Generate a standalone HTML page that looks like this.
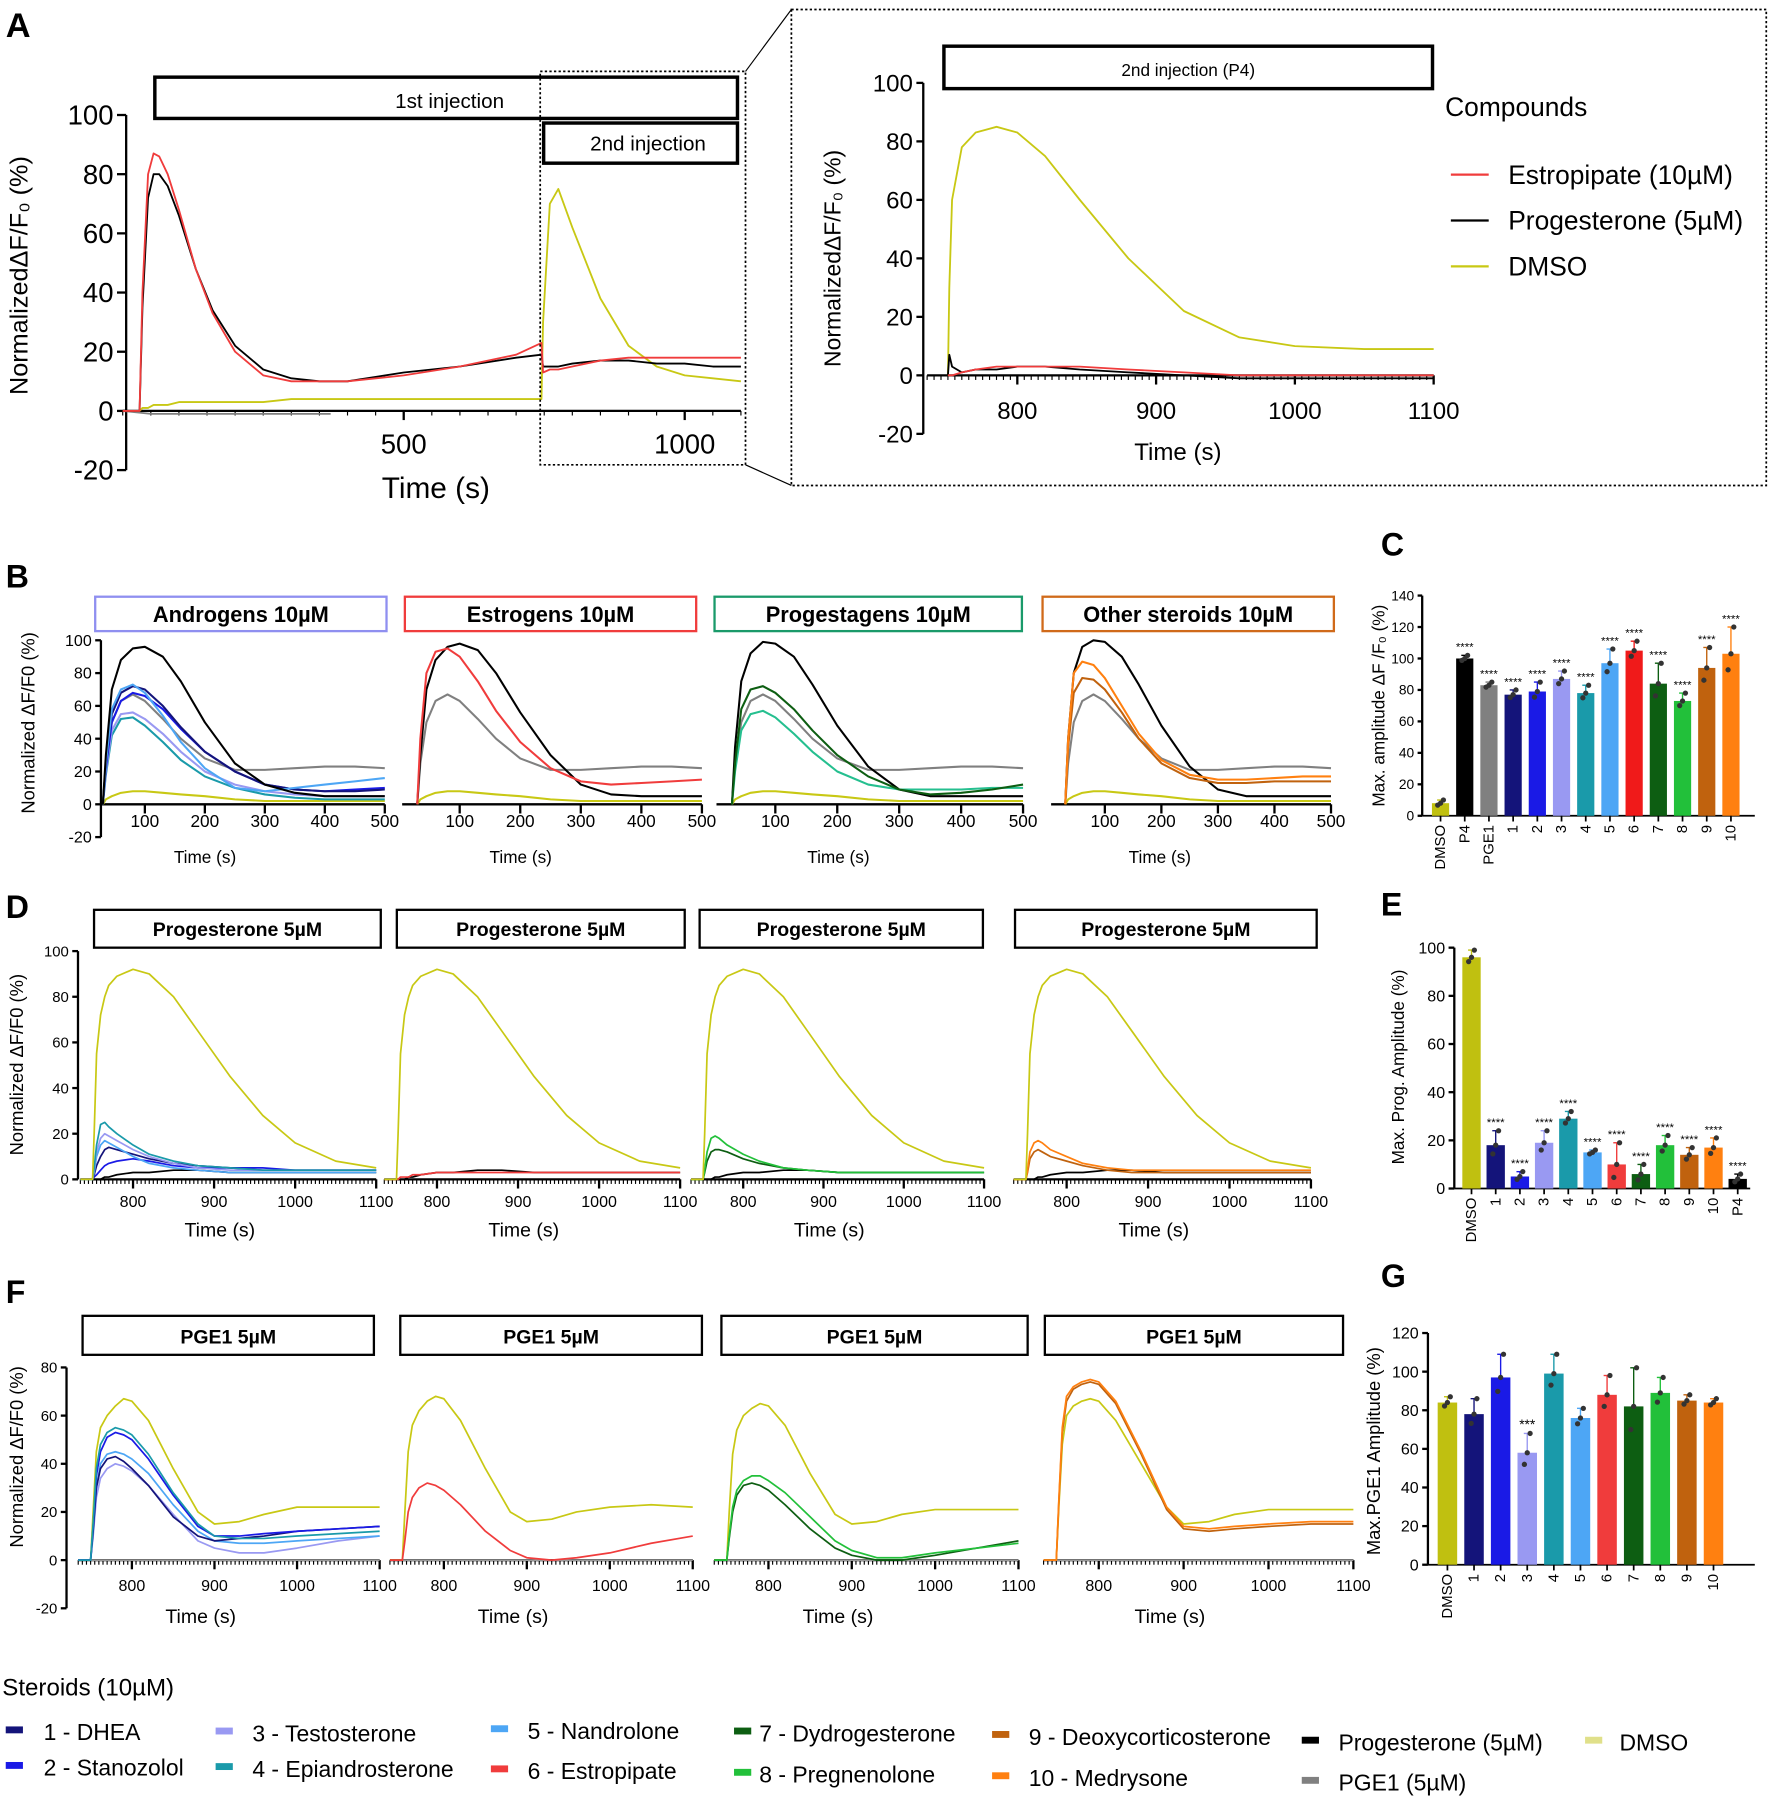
<!DOCTYPE html>
<html><head><meta charset="utf-8"><style>
html,body{margin:0;padding:0;background:#fff;}
svg{display:block;font-family:"Liberation Sans",sans-serif;}
</style></head><body>
<svg id="fig" width="1772" height="1799" viewBox="0 0 1545 1568" xmlns="http://www.w3.org/2000/svg"></svg>
<script>
// ---------- DATA ----------
const timesA=[0,25,30,35,45,55,65,80,100,130,160,200,250,300,350,400,500,600,700,745,748,760,775,800,850,900,950,1000,1050,1100];
const aRed=[0,0,0,40,80,87,86,80,68,48,33,20,12,10,10,10,12,15,19,23,13,14,14,15,17,18,18,18,18,18];
const aBlack=[0,0,0,35,72,80,80,76,66,48,34,22,14,11,10,10,13,15,18,19,15,15,15,16,17,17,16,16,15,15];
const aYellow=[0,0,0,1,1,2,2,2,3,3,3,3,3,4,4,4,4,4,4,4,30,70,75,62,38,22,15,12,11,10];
const aGrayT=[0,50,150,250,370];
const aGray=[0,-1,-1,-1,-1];
const timesInset=[750,751,753,760,770,785,800,820,845,880,920,960,1000,1050,1100];
const inYellow=[0,30,60,78,83,85,83,75,60,40,22,13,10,9,9];
const inRed=[0,0,0,1,2,3,3,3,3,2,1,0,0,0,0];
const inBlack=[0,7,3,1,2,2,3,3,2,1,0,-1,-1,-1,-1];

const timesB=[30,35,45,60,80,100,130,160,200,250,300,350,400,450,500];
const bBlack1=[0,30,70,88,95,96,90,75,50,25,12,7,5,5,5];
const bGray=[0,25,50,63,67,63,52,40,28,21,21,22,23,23,22];
const bYellow=[0,3,5,7,8,8,7,6,5,3,2,2,2,2,2];
const bDHEA=[0,25,55,68,72,70,60,47,32,20,12,9,8,8,9];
const bStano=[0,22,50,63,68,66,58,46,32,20,12,9,8,9,10];
const bTesto=[0,20,45,55,56,52,43,32,20,12,8,6,5,5,5];
const bEpi=[0,18,42,52,53,48,38,27,17,10,6,4,3,3,3];
const bNandro=[0,25,58,70,73,68,54,38,22,10,8,10,12,14,16];
const bBlack2=[0,30,70,88,96,98,94,80,56,30,12,6,5,5,5];
const bEstro=[0,40,80,93,95,90,75,57,38,22,14,12,13,14,15];
const bBlack3=[0,35,75,92,99,98,90,73,48,23,9,5,5,5,5];
const bDydro=[0,25,58,70,72,68,58,45,30,17,9,6,7,9,12];
const bPreg=[0,20,45,55,57,53,43,32,20,12,9,9,9,10,10];
const bBlack4=[0,40,80,96,100,99,90,73,48,23,9,5,5,5,5];
const bMedry=[0,40,80,87,85,77,60,43,27,18,15,15,16,17,17];
const bDeoxy=[0,35,68,77,76,70,56,40,25,16,13,13,14,14,14];

const timesD=[735,750,752,755,760,765,770,780,800,820,850,880,920,960,1000,1050,1100];
const dYellow=[0,0,20,55,72,80,85,89,92,90,80,65,45,28,16,8,5];
const dEpi=[0,0,5,15,24,25,23,20,15,11,8,6,5,4,4,4,4];
const dTesto=[0,0,4,12,18,20,19,17,13,10,7,5,4,4,4,4,4];
const dNandro=[0,0,3,10,15,17,16,14,10,7,5,4,3,3,3,3,3];
const dDHEA=[0,0,2,6,10,13,14,13,11,9,7,6,5,4,4,4,4];
const dStano=[0,0,1,2,4,6,7,8,9,8,6,5,5,5,4,4,4];
const dBlack=[0,0,0,0,0,1,1,2,3,3,4,4,3,3,3,3,3];
const dEstro=[0,0,0,1,1,1,2,2,3,3,3,3,3,3,3,3,3];
const dPreg=[0,0,4,12,18,19,18,15,11,8,5,4,3,3,3,3,3];
const dDydro=[0,0,3,8,12,13,13,12,9,7,5,4,3,3,3,3,3];
const dMedry=[0,0,4,12,16,17,16,13,10,7,5,4,4,4,4,4,4];
const dDeoxy=[0,0,3,9,12,13,12,10,8,6,4,3,3,3,3,3,3];

const timesF=[735,750,753,757,762,770,780,790,800,820,850,880,900,930,960,1000,1050,1100];
const fYellow1=[0,0,20,45,55,60,64,67,66,58,38,20,15,16,19,22,22,22];
const fEpi=[0,0,15,38,48,53,55,54,52,44,28,15,10,9,9,10,11,12];
const fStano=[0,0,14,35,45,51,53,52,50,42,27,14,10,10,11,12,13,14];
const fNandro=[0,0,12,30,40,44,45,44,42,36,23,12,8,7,7,8,9,10];
const fDHEA=[0,0,12,30,38,42,43,41,38,31,18,10,8,9,10,12,13,14];
const fTesto=[0,0,10,26,34,38,40,39,37,31,19,8,5,3,3,5,8,10];
const fYellow2=[0,0,20,45,56,62,66,68,67,58,38,20,16,17,20,22,23,22];
const fEstro=[0,0,8,20,26,30,32,31,29,23,12,4,1,0,1,3,7,10];
const fYellow3=[0,0,20,44,54,60,63,65,64,56,36,19,15,16,19,21,21,21];
const fPreg=[0,0,10,22,29,33,35,35,33,28,18,8,4,1,1,3,5,7];
const fDydro=[0,0,9,20,27,31,32,31,29,23,13,5,2,0,0,2,5,8];
const fYellow4=[0,0,22,48,60,64,66,67,66,58,40,22,15,16,19,21,21,21];
const fMedry=[0,0,25,55,68,72,74,75,74,66,45,22,14,13,14,15,16,16];
const fDeoxy=[0,0,24,53,66,71,73,74,73,65,44,21,13,12,13,14,15,15];

const catsC=["DMSO","P4","PGE1","1","2","3","4","5","6","7","8","9","10"];
const valsC=[8,100,83,77,79,87,78,97,105,84,73,94,103];
const errsC=[2,2,2,3,6,5,5,9,6,13,5,13,17];
const starsC=["","****","****","****","****","****","****","****","****","****","****","****","****"];
const ticksC=[0,20,40,60,80,100,120,140];

const catsE=["DMSO","1","2","3","4","5","6","7","8","9","10","P4"];
const valsE=[96,18,5,19,29,15,10,6,18,14,17,4];
const errsE=[3,6,2,5,3,1,9,4,4,3,4,2];
const starsE=["","****","****","****","****","****","****","****","****","****","****","****"];
const ticksE=[0,20,40,60,80,100];

const catsG=["DMSO","1","2","3","4","5","6","7","8","9","10"];
const valsG=[84,78,97,58,99,76,88,82,89,85,84];
const errsG=[3,8,12,10,10,5,10,20,8,3,2];
const starsG=["","","","***","","","","","","",""];
const ticksG=[0,20,40,60,80,100,120];

// ---------- HELPERS ----------
const NS="http://www.w3.org/2000/svg";
const svg=document.getElementById('fig');
const C={navy:"#14147a",blue:"#1a1ae6",lav:"#9999f2",teal:"#1a9aaa",lblue:"#4da6f5",red:"#f03c3c",dgreen:"#0d5e12",green:"#22c03a",brown:"#c0620e",orange:"#ff8010",black:"#000",gray:"#808080",yel:"#c8c814"};
function mk(tag,attrs,name,parent){
  const e=document.createElementNS(NS,tag);
  for(const k in attrs)e.setAttribute(k,attrs[k]);
  
  
  (parent||svg).appendChild(e);return e;
}
function T(x,y,s,size,name,o){
  o=o||{};
  const a={x:x,y:y,'font-size':size,fill:o.fill||"#000",'text-anchor':o.anchor||"start"};
  if(o.bold)a['font-weight']='bold';
  if(o.rot!==undefined)a.transform=`rotate(${o.rot} ${x} ${y})`;
  const e=mk('text',a,name);e.textContent=s;return e;
}
function L(x1,y1,x2,y2,name,w,col,dash){
  const a={x1:x1,y1:y1,x2:x2,y2:y2,stroke:col||"#000",'stroke-width':w||1.5};
  if(dash)a['stroke-dasharray']=dash;
  return mk('line',a,name);
}
function R(x,y,w,h,name,stroke,sw,fill,dash){
  const a={x:x,y:y,width:w,height:h,fill:fill||"none",stroke:stroke||"none",'stroke-width':sw||0};
  if(dash)a['stroke-dasharray']=dash;
  return mk('rect',a,name);
}
function trace(ts,vs,xs,ys,col,name,w){
  const pts=ts.map((t,i)=>xs(t).toFixed(1)+","+ys(vs[i]).toFixed(1)).join(" ");
  return mk('polyline',{points:pts,fill:"none",stroke:col,'stroke-width':w||1.6,'stroke-linejoin':'round'},name);
}
function lin(d0,p0,d1,p1){return v=>p0+(v-d0)*(p1-p0)/(d1-d0);}
function yAxis(x,ticks,ys,size,name,tl){
  L(x,ys(ticks[ticks.length-1]),x,ys(ticks[0]),name+"-line",2);
  ticks.forEach(t=>{L(x-(tl||6),ys(t),x,ys(t),name+"-tick",2);T(x-(tl||6)-3,ys(t)+size*0.35,String(t),size,name+"-label",{anchor:"end"});});
}
function xAxis(y,t1,t2,majors,xs,minor,size,labelDy,name){
  L(xs(t1),y,xs(t2),y,name+"-line",2);
  if(minor){for(let t=Math.ceil(t1/minor)*minor;t<=t2;t+=minor)L(xs(t),y,xs(t),y+4,name+"-minor-tick",1);}
  majors.forEach(t=>{L(xs(t),y,xs(t),y+8,name+"-tick",2);T(xs(t),y+labelDy,String(t),size,name+"-label",{anchor:"middle"});});
}
function bars(cats,vals,errs,stars,cols,x0,step,bw,ys,name,fs){
  cats.forEach((c,i)=>{
    const cx=x0+i*step;
    R(cx-bw/2,ys(vals[i]),bw,ys(0)-ys(vals[i]),name+"-bar-"+c,null,0,cols[i]);
    L(cx,ys(vals[i]+errs[i]),cx,ys(vals[i]),name+"-error-bar",1.2,cols[i]);
    L(cx-3,ys(vals[i]+errs[i]),cx+3,ys(vals[i]+errs[i]),name+"-error-cap",1.2,cols[i]);
    [vals[i]-errs[i]*0.6,vals[i],vals[i]+errs[i]].forEach((v,k)=>mk('circle',{cx:cx+(k-1)*2.5,cy:ys(v),r:2.3,fill:"#333"},name+"-replicate-dot"));
    if(stars[i])T(cx,ys(vals[i]+errs[i])-4,stars[i],fs,name+"-significance",{anchor:"middle"});
    T(cx+4,ys(0)+8,c,13,name+"-category-label",{anchor:"end",rot:-90});
    L(cx,ys(0),cx,ys(0)+5,name+"-x-tick",1.5);
  });
}

// ---------- PANEL A ----------
T(5,32,"A",30,"panel-a-label",{bold:true});
const axA=lin(0,107,1000,597), ayA=lin(0,358,100,100);
R(135,67,508,36,"first-injection-box","#000",3);
T(392,94,"1st injection",18,"first-injection-label",{anchor:"middle"});
R(474,107,169,35,"second-injection-box","#000",3);
T(565,131,"2nd injection",18,"second-injection-label",{anchor:"middle"});
yAxis(110,[-20,0,20,40,60,80,100],ayA,24,"a-y-axis",8);
xAxis(358,0,1100,[500,1000],axA,50,24,37,"a-x-axis");
T(380,434,"Time (s)",26,"a-x-axis-title",{anchor:"middle"});
T(24,240,"NormalizedΔF/F₀ (%)",22,"a-y-axis-title",{anchor:"middle",rot:-90});
trace(aGrayT,aGray,axA,ayA,C.gray,"a-pge1-trace");
trace(timesA,aYellow,axA,ayA,C.yel,"a-dmso-trace");
trace(timesA,aBlack,axA,ayA,C.black,"a-progesterone-trace");
trace(timesA,aRed,axA,ayA,C.red,"a-estropipate-trace");
R(471,62,179,343,"zoom-region-box","#000",1.5,null,"2,2");
R(690,8,850,415,"inset-frame","#000",1.5,null,"2,2");
L(650,62,690,8,"zoom-connector-top",1);L(650,405,690,423,"zoom-connector-bottom",1);
// inset
const axI=lin(800,887,1100,1250), ayI=lin(0,327,100,72);
R(823,40,426,37,"inset-injection-box","#000",3);
T(1036,66,"2nd injection (P4)",15,"inset-injection-label",{anchor:"middle"});
yAxis(805,[-20,0,20,40,60,80,100],ayI,21,"inset-y-axis",6);
xAxis(327,735,1100,[800,900,1000,1100],axI,5,21,38,"inset-x-axis");
T(1027,401,"Time (s)",21,"inset-x-axis-title",{anchor:"middle"});
T(733,225,"NormalizedΔF/F₀ (%)",20,"inset-y-axis-title",{anchor:"middle",rot:-90});
trace(timesInset,inYellow,axI,ayI,C.yel,"inset-dmso-trace");
trace(timesInset,inBlack,axI,ayI,C.black,"inset-progesterone-trace");
trace(timesInset,inRed,axI,ayI,C.red,"inset-estropipate-trace");
T(1260,101,"Compounds",23,"legend-title");
[["Estropipate (10µM)",C.red],["Progesterone (5µM)",C.black],["DMSO",C.yel]].forEach((e,i)=>{
  L(1265,152+i*40,1298,152+i*40,"legend-swatch",2,e[1]);
  T(1315,160+i*40,e[0],23,"legend-entry");
});

// ---------- PANEL B ----------
T(5,512,"B",28,"panel-b-label",{bold:true});
const ayB=lin(0,701,100,558);
const bOx=[74,348,622,914], bSc=[0.523,0.528,0.54,0.493];
const bTitles=[["Androgens 10µM","#8f8ff0"],["Estrogens 10µM","#f03c3c"],["Progestagens 10µM","#1a9a6a"],["Other steroids 10µM","#d06a1a"]];
const bBox=[[83,337],[353,607],[623,891],[909,1163]];
const bSeries=[
 [[bYellow,C.yel],[bGray,C.gray],[bEpi,C.teal],[bTesto,C.lav],[bStano,C.blue],[bDHEA,C.navy],[bNandro,C.lblue],[bBlack1,C.black]],
 [[bYellow,C.yel],[bGray,C.gray],[bBlack2,C.black],[bEstro,C.red]],
 [[bYellow,C.yel],[bGray,C.gray],[bBlack3,C.black],[bPreg,"#25bf8f"],[bDydro,C.dgreen]],
 [[bYellow,C.yel],[bGray,C.gray],[bBlack4,C.black],[bDeoxy,C.brown],[bMedry,C.orange]]];
for(let p=0;p<4;p++){
  const xs=(t)=>bOx[p]+t*bSc[p];
  R(bBox[p][0],520,bBox[p][1]-bBox[p][0],30,"b-title-box-"+(p+1),bTitles[p][1],2);
  T((bBox[p][0]+bBox[p][1])/2,542,bTitles[p][0],19,"b-title-"+(p+1),{anchor:"middle",bold:true});
  xAxis(701,p==0?27:5,500,[100,200,300,400,500],xs,0,15,20,"b"+(p+1)+"-x-axis");
  T(xs(250)-26,752,"Time (s)",15,"b"+(p+1)+"-x-axis-title",{anchor:"middle"});
  bSeries[p].forEach((s,k)=>trace(timesB,s[0],xs,ayB,s[1],"b"+(p+1)+"-trace",1.8));
}
yAxis(88,[-20,0,20,40,60,80,100],ayB,14,"b-y-axis",5);
T(30,630,"Normalized ΔF/F0 (%)",16,"b-y-axis-title",{anchor:"middle",rot:-90});

// ---------- PANEL C ----------
T(1204,484,"C",28,"panel-c-label",{bold:true});
const ayC=lin(0,711,140,519);
yAxis(1240,ticksC,ayC,12,"c-y-axis",4);
L(1240,711,1530,711,"c-x-axis-line",1.5);
bars(catsC,valsC,errsC,starsC,["#c0c010","#000","#808080",C.navy,C.blue,C.lav,C.teal,C.lblue,"#f01a1a",C.dgreen,C.green,C.brown,C.orange],1256,21.1,15,ayC,"c",10);
T(1207,615,"Max. amplitude ΔF /F₀ (%)",15,"c-y-axis-title",{anchor:"middle",rot:-90});

// ---------- PANEL D ----------
T(5,800,"D",28,"panel-d-label",{bold:true});
const ayD=lin(0,1028,100,829);
const dRef=[[116,328],[381,593],[648,858],[930,1143]];
const dBox=[[82,332],[346,597],[610,857],[885,1148]];
const dSeries=[
 [[dBlack,C.black],[dStano,C.blue],[dDHEA,C.navy],[dNandro,C.lblue],[dTesto,C.lav],[dEpi,C.teal],[dYellow,C.yel]],
 [[dBlack,C.black],[dEstro,C.red],[dYellow,C.yel]],
 [[dBlack,C.black],[dDydro,C.dgreen],[dPreg,C.green],[dYellow,C.yel]],
 [[dBlack,C.black],[dDeoxy,C.brown],[dMedry,C.orange],[dYellow,C.yel]]];
for(let p=0;p<4;p++){
  const xs=lin(800,dRef[p][0],1100,dRef[p][1]);
  R(dBox[p][0],793,dBox[p][1]-dBox[p][0],33,"d-title-box-"+(p+1),"#000",2);
  T((dBox[p][0]+dBox[p][1])/2,816,"Progesterone 5µM",17,"d-title-"+(p+1),{anchor:"middle",bold:true});
  xAxis(1028,735,1100,[800,900,1000,1100],xs,5,14,24,"d"+(p+1)+"-x-axis");
  T(xs(900)+5,1078,"Time (s)",17,"d"+(p+1)+"-x-axis-title",{anchor:"middle"});
  dSeries[p].forEach(s=>trace(timesD,s[0],xs,ayD,s[1],"d"+(p+1)+"-trace",1.5));
}
yAxis(68,[0,20,40,60,80,100],ayD,13,"d-y-axis",5);
T(20,928,"Normalized ΔF/F0 (%)",16,"d-y-axis-title",{anchor:"middle",rot:-90});

// ---------- PANEL E ----------
T(1204,798,"E",28,"panel-e-label",{bold:true});
const ayE=lin(0,1036,100,826);
yAxis(1268,ticksE,ayE,14,"e-y-axis",5);
L(1268,1036,1526,1036,"e-x-axis-line",1.5);
bars(catsE,valsE,errsE,starsE,["#c0c010",C.navy,C.blue,C.lav,C.teal,C.lblue,C.red,C.dgreen,C.green,C.brown,C.orange,"#000"],1283,21.1,16,ayE,"e",10);
T(1224,930,"Max. Prog. Amplitude (%)",15,"e-y-axis-title",{anchor:"middle",rot:-90});

// ---------- PANEL F ----------
T(5,1136,"F",28,"panel-f-label",{bold:true});
const ayF=lin(0,1360,80,1192);
const fRef=[[115,331],[387,604],[670,888],[958,1180]];
const fBox=[[72,326],[349,612],[629,896],[911,1171]];
const fSeries=[
 [[fYellow1,C.yel],[fTesto,C.lav],[fNandro,C.lblue],[fDHEA,C.navy],[fStano,C.blue],[fEpi,C.teal]],
 [[fYellow2,C.yel],[fEstro,C.red]],
 [[fYellow3,C.yel],[fDydro,C.dgreen],[fPreg,C.green]],
 [[fYellow4,C.yel],[fDeoxy,C.brown],[fMedry,C.orange]]];
for(let p=0;p<4;p++){
  const xs=lin(800,fRef[p][0],1100,fRef[p][1]);
  R(fBox[p][0],1147,fBox[p][1]-fBox[p][0],34,"f-title-box-"+(p+1),"#000",2);
  T((fBox[p][0]+fBox[p][1])/2,1171,"PGE1 5µM",17,"f-title-"+(p+1),{anchor:"middle",bold:true});
  xAxis(1360,735,1100,[800,900,1000,1100],xs,5,14,27,"f"+(p+1)+"-x-axis");
  L(xs(735),1360,xs(1100),1360,"f"+(p+1)+"-zero-line",1.5,"#999");
  T(xs(900)-12,1415,"Time (s)",17,"f"+(p+1)+"-x-axis-title",{anchor:"middle"});
  fSeries[p].forEach(s=>trace(timesF,s[0],xs,ayF,s[1],"f"+(p+1)+"-trace",1.5));
}
yAxis(58,[-20,0,20,40,60,80],ayF,13,"f-y-axis",5);
T(20,1270,"Normalized ΔF/F0 (%)",16,"f-y-axis-title",{anchor:"middle",rot:-90});

// ---------- PANEL G ----------
T(1204,1122,"G",28,"panel-g-label",{bold:true});
const ayG=lin(0,1364,120,1162);
yAxis(1245,ticksG,ayG,14,"g-y-axis",5);
L(1245,1364,1530,1364,"g-x-axis-line",1.5);
bars(catsG,valsG,errsG,starsG,["#c0c010",C.navy,C.blue,C.lav,C.teal,C.lblue,C.red,C.dgreen,C.green,C.brown,C.orange],1262,23.2,17,ayG,"g",12);
T(1203,1265,"Max.PGE1 Amplitude (%)",16,"g-y-axis-title",{anchor:"middle",rot:-90});

// ---------- BOTTOM LEGEND ----------
T(2,1478,"Steroids (10µM)",21,"steroids-legend-title");
const legItems=[
 ["1 - DHEA",C.navy,5,38,1517],["2 - Stanozolol",C.blue,5,38,1548],
 ["3 - Testosterone",C.lav,188,220,1518],["4 - Epiandrosterone",C.teal,188,220,1549],
 ["5 - Nandrolone",C.lblue,428,460,1516],["6 - Estropipate",C.red,428,460,1551],
 ["7 - Dydrogesterone",C.dgreen,640,662,1518],["8 - Pregnenolone",C.green,640,662,1554],
 ["9 - Deoxycorticosterone",C.brown,865,897,1521],["10 - Medrysone",C.orange,865,897,1557],
 ["Progesterone (5µM)",C.black,1135,1167,1526],["PGE1 (5µM)",C.gray,1135,1167,1561],
 ["DMSO","#e0e08a",1382,1412,1526]];
legItems.forEach(it=>{
  R(it[2],it[4]-12,15,6,"legend-swatch",null,0,it[1]);
  T(it[3],it[4],it[0],20,"legend-entry");
});
</script>
</body></html>
